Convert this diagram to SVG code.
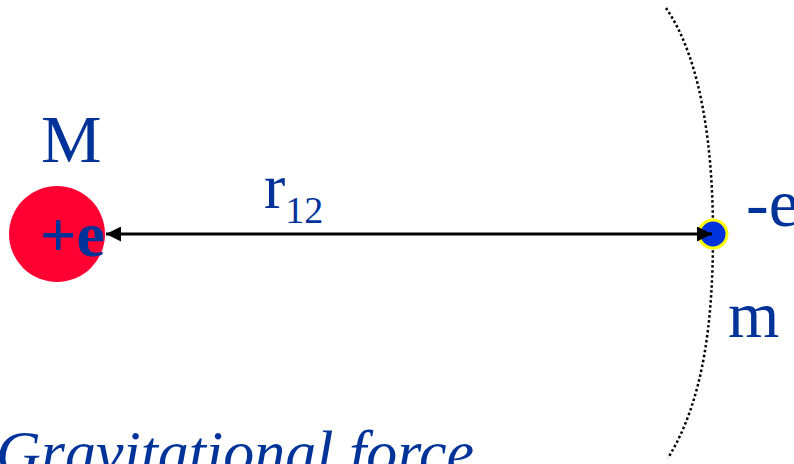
<svg xmlns="http://www.w3.org/2000/svg" width="794" height="464" viewBox="0 0 794 464">
<style>
.t{fill:#003399;font-family:"Liberation Serif","Times New Roman",serif}
</style>
<defs>
<marker id="ah" viewBox="0 0 10 10" refX="10" refY="5" markerWidth="5" markerHeight="5" markerUnits="strokeWidth" orient="auto-start-reverse">
<path d="M0,0 L10,5 L0,10 z" fill="#000"/>
</marker>
</defs>
<rect width="794" height="464" fill="#fff"/>
<g id="arc">
<path d="M666,8 C702,60 713,150 713,234 C713,320 704,400 668,458" fill="none" stroke="#000" stroke-width="2.5" stroke-dasharray="2.5 2.5"/>
</g>
<g id="nodeM">
<circle cx="57" cy="234" r="48" fill="#ff0033"/>
<text class="t" x="41" y="162" font-size="68">M</text>
<text class="t" x="40" y="256" font-size="64" font-weight="bold">+e</text>
</g>
<g id="nodem">
<circle cx="713" cy="234" r="14" fill="#0033dd" stroke="#ffff00" stroke-width="3"/>
<text class="t" x="746" y="226" font-size="68">-e</text>
<text class="t" x="728" y="337" font-size="66">m</text>
</g>
<g id="connectors">
<line x1="106" y1="234" x2="712" y2="234" stroke="#000" stroke-width="3" marker-start="url(#ah)" marker-end="url(#ah)"/>
</g>
<text class="t" x="264" y="208" font-size="64">r<tspan font-size="38" dy="15">12</tspan></text>
<text class="t" x="-4" y="473" font-size="62" font-style="italic">Gravitational force</text>
</svg>
